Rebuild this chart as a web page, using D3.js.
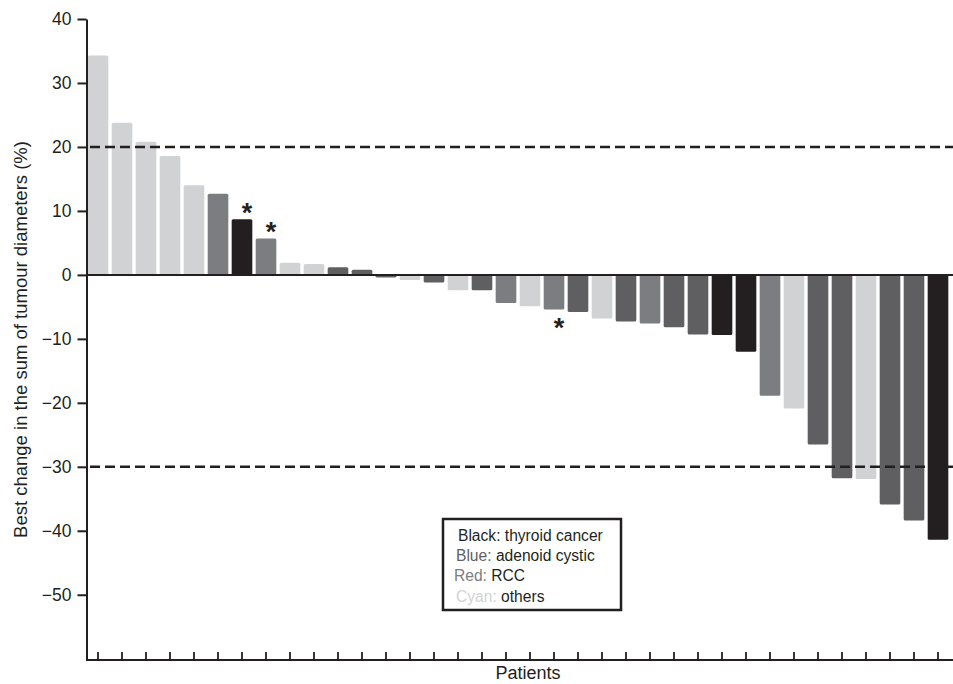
<!DOCTYPE html>
<html>
<head>
<meta charset="utf-8">
<script src="https://cdn.jsdelivr.net/npm/d3@7"></script>
<style>
  html, body { margin: 0; padding: 0; background: #fff; }
  svg { display: block; font-family: "Liberation Sans", Arial, Helvetica, sans-serif; }
</style>
</head>
<body>
<svg id="chart" width="953" height="684"></svg>
<script>
// ---- data ----
const patients = d3.range(1, 37).map(i => "P" + i);
const changes = [34.3, 23.8, 20.8, 18.6, 14.0, 12.7, 8.7, 5.7, 1.9, 1.7, 1.2, 0.8,
  -0.4, -0.8, -1.2, -2.4, -2.4, -4.4, -4.9, -5.4, -5.8, -6.8, -7.3, -7.6,
  -8.2, -9.3, -9.4, -12.0, -18.9, -20.9, -26.5, -31.8, -31.9, -35.9, -38.4, -41.4];
const tumourTypes = ["others","others","others","others","others","rcc","thyroid","rcc",
  "others","others","adenoid","adenoid","adenoid","others","adenoid","others","adenoid","rcc",
  "others","rcc","adenoid","others","adenoid","rcc","adenoid","adenoid","thyroid","thyroid",
  "rcc","others","adenoid","adenoid","others","adenoid","adenoid","thyroid"];
const starred = ["P7", "P8", "P20"];
const yTicks = [40, 30, 20, 10, 0, -10, -20, -30, -40, -50];
const thresholds = [20, -30];
const typeKeys = ["thyroid", "adenoid", "rcc", "others"];
const typeColors = ["#231f20", "#5f5f62", "#7c7d80", "#d1d2d4"];
const legendColorWords = ["Black:", "Blue:", "Red:", "Cyan:"];
const legendNames = [" thyroid cancer", " adenoid cystic", " RCC", " others"];

const data = patients.map((p, i) => ({ id: p, value: changes[i], type: tumourTypes[i] }));

// ---- scales ----
const svg = d3.select("#chart");
const x = d3.scaleBand().domain(patients).range([86, 950]).paddingInner(0.14).paddingOuter(0.07);
const y = d3.scaleLinear().domain([-60.2, 40]).range([660, 19]);
const color = d3.scaleOrdinal().domain(typeKeys).range(typeColors);
const ink = "#231f20";

// ---- bars ----
svg.append("g").selectAll("rect").data(data).join("rect")
  .attr("x", d => x(d.id))
  .attr("y", d => y(Math.max(0, d.value)))
  .attr("width", x.bandwidth())
  .attr("height", d => Math.abs(y(d.value) - y(0)))
  .attr("rx", 1.5)
  .attr("fill", d => color(d.type));

// ---- zero line ----
svg.append("line")
  .attr("x1", 86).attr("x2", 953)
  .attr("y1", y(0)).attr("y2", y(0))
  .attr("stroke", ink).attr("stroke-width", 2);

// ---- threshold lines ----
svg.append("g").selectAll("line").data(thresholds).join("line")
  .attr("x1", 90).attr("x2", 953)
  .attr("y1", d => y(d)).attr("y2", d => y(d))
  .attr("stroke", ink).attr("stroke-width", 2.6)
  .attr("stroke-dasharray", "10,5");

// ---- asterisks ----
svg.append("g").selectAll("text").data(data.filter(d => starred.includes(d.id))).join("text")
  .attr("x", d => x(d.id) + x.bandwidth() / 2 + 5)
  .attr("y", d => d.value >= 0 ? y(d.value) + 2.5 : y(d.value) + 28)
  .attr("text-anchor", "middle")
  .attr("font-size", 27)
  .attr("font-weight", "bold")
  .attr("fill", ink)
  .text("*");

// ---- y axis ----
const yAxis = svg.append("g").attr("transform", "translate(86.5,0)")
  .call(d3.axisLeft(y).tickValues(yTicks).tickSize(9).tickPadding(6).tickSizeOuter(0));
yAxis.select(".domain").attr("stroke", ink).attr("stroke-width", 2);
yAxis.selectAll(".tick line").attr("stroke", ink).attr("stroke-width", 2);
yAxis.selectAll(".tick text").attr("font-size", 17.5).attr("fill", ink)
  .attr("font-family", "Liberation Sans, Arial, sans-serif");

// ---- x axis (ticks pointing up) ----
const xAxis = svg.append("g").attr("transform", "translate(0,660)")
  .call(d3.axisBottom(x).tickSize(-8).tickFormat("").tickSizeOuter(0));
xAxis.select(".domain").attr("stroke", ink).attr("stroke-width", 2)
  .attr("d", "M86,0H953");
xAxis.selectAll(".tick line").attr("stroke", ink).attr("stroke-width", 1.8);

// ---- axis titles ----
svg.append("text")
  .attr("x", 528).attr("y", 679)
  .attr("text-anchor", "middle").attr("font-size", 18).attr("fill", ink)
  .text("Patients");
svg.append("text")
  .attr("transform", "translate(26.5,339.5) rotate(-90)")
  .attr("text-anchor", "middle").attr("font-size", 18.5).attr("fill", ink)
  .text("Best change in the sum of tumour diameters (%)");

// ---- legend ----
const legend = svg.append("g");
legend.append("rect")
  .attr("x", 443).attr("y", 519).attr("width", 178).attr("height", 91)
  .attr("fill", "#fff").attr("stroke", ink).attr("stroke-width", 2.5);
const rows = legend.selectAll("text").data(typeKeys).join("text")
  .attr("x", (d, i) => [458, 456, 454, 456][i])
  .attr("y", (d, i) => 540.5 + i * 20.4)
  .attr("font-size", 15.6);
rows.append("tspan").attr("fill", (d, i) => i === 0 ? ink : typeColors[i]).text((d, i) => legendColorWords[i]);
rows.append("tspan").attr("fill", ink).text((d, i) => legendNames[i]);
</script>
</body>
</html>
